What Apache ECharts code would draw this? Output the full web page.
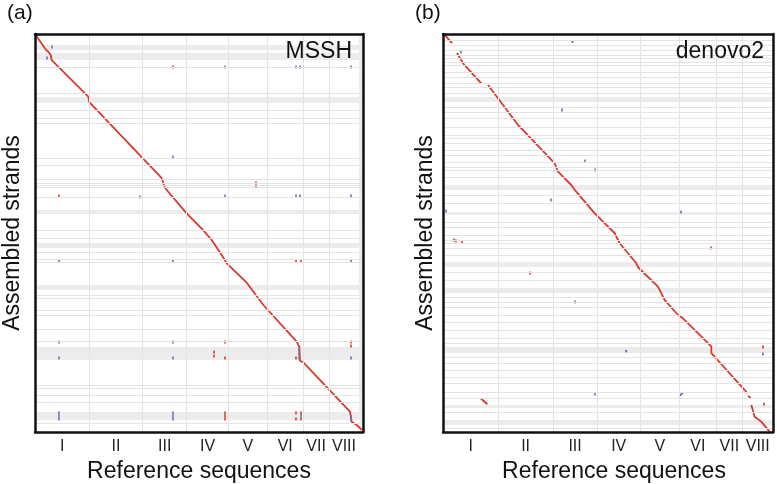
<!DOCTYPE html>
<html><head><meta charset="utf-8">
<script src="https://cdn.jsdelivr.net/npm/echarts@6/dist/echarts.min.js"></script>
<style>html,body{margin:0;padding:0;background:#fff}#c{width:777px;height:484px}</style>
</head><body><div id="c"></div>
<script>
// ---------- data ----------
const chromosomes = ['I','II','III','IV','V','VI','VII','VIII'];
const chromLengths = [5.47, 5.37, 4.41, 4.21, 3.91, 3.61, 2.60, 3.01];
const tailA = 0.41;            // unplaced tail shown on panel (a)
const strandTotal = 33.0;      // total assembled length (y)

// main diagonal (panel a) : [reference pos, strand pos]
const diagA = [[0,0],[1.11,1.33],[1.34,1.47],[1.58,1.74],[1.68,2.16],[5.36,5.20],[5.46,5.64],
  [12.75,11.96],[12.91,12.35],[13.08,12.77],[15.26,14.87],[16.77,16.13],[17.78,17.08],[18.78,18.32],
  [19.29,19.01],[21.30,20.62],[22.97,22.47],[26.33,25.51],[26.59,25.93],[26.66,27.09],[26.99,27.22],
  [31.69,31.32],[31.86,32.14],[32.37,32.42],[32.87,32.83]];

// panel a off-diagonal hits
const fwdA = [[13.88,2.74],[22.23,12.35],[22.23,12.60],[2.41,13.43],[26.26,18.82],[26.76,18.82],
  [19.12,25.54],[31.79,25.54],[31.79,25.87],[18.01,26.37],[18.01,26.70],[19.12,26.86],[26.26,26.86],
  [19.12,31.42],[19.12,31.67],[19.12,31.92],[26.26,31.42],[26.26,31.92],[26.76,31.42],[26.76,31.92]];
const revA = [[1.71,1.08],[1.21,1.99],[19.12,2.74],[26.26,2.74],[26.66,2.74],[31.79,2.74],
  [13.88,10.20],[10.56,13.51],[19.12,13.43],[26.26,13.43],[26.66,13.43],[31.79,13.43],
  [2.41,18.82],[13.88,18.82],[31.79,18.82],[2.41,25.54],[13.88,25.54],[2.41,26.86],[13.88,26.86],
  [31.79,26.86],[2.41,31.42],[2.41,31.67],[2.41,31.92],[13.88,31.42],[13.88,31.67],[13.88,31.92],
  [26.56,26.20],[26.56,26.53],[26.56,26.86],[31.79,31.75],[31.79,32.00],[26.76,31.67]];

// main diagonal (panel b), split into pieces
const diagB = [
  [[0.17,0.08],[0.89,0.75]],
  [[1.38,1.58],[1.98,2.43],[3.78,4.09]],
  [[4.44,4.23],[5.43,5.33],[7.41,7.54],[11.03,10.72],[11.36,11.42],[12.67,12.52],[13.01,12.93],
   [14.98,14.87],[16.96,16.52],[17.45,17.35],[19.09,19.01],[19.26,19.34],[21.23,20.95],[21.90,22.06],
   [23.21,23.30],[23.70,23.57],[26.17,25.64],[26.50,25.93],[26.50,26.47],[26.83,26.76],[29.80,29.52],[30.05,29.79]],
  [[30.12,29.99],[30.39,30.20]],
  [[30.45,30.76],[30.78,31.73],[31.43,32.14],[32.26,32.97]]
];
const fwdSegB = [[[3.72,30.20],[4.38,30.70]]];
const revSegB = [[[12.71,0.72],[12.87,0.56]],[[23.41,29.99],[23.67,29.74]],[[18.04,26.20],[18.14,26.39]]];
const fwdB = [[1.09,17.08],[1.28,17.16],[1.88,17.25],[26.47,17.74],[8.59,19.82],[31.60,25.95],[31.70,30.68]];
const revB = [[1.78,1.49],[11.75,6.30],[14.02,10.53],[15.01,11.28],[10.67,13.76],[0.30,14.68],
  [23.50,14.76],[13.04,22.22],[31.60,26.53],[15.01,29.85]];

// strand boundaries (y)
const strandLinesA = [2.74,4.89,6.30,6.96,7.38,10.28,10.86,12.02,12.35,12.52,12.69,13.51,16.25,16.91,
  18.07,18.65,18.90,21.64,21.89,22.88,23.30,24.46,25.45,29.10,29.35,29.93,30.51,32.25];
const strandBandsA = [[0.91,1.33],[1.58,2.16],[5.22,5.72],[14.59,14.92],[17.33,17.74],[20.81,21.22],
  [25.95,27.03],[31.34,32.00]];
const strandLinesB = [0.50,0.91,1.33,1.74,1.99,2.32,2.57,3.15,3.57,4.06,4.39,4.89,6.05,6.47,6.96,7.71,
  8.37,8.62,9.04,9.62,10.03,10.61,11.03,11.28,11.86,13.35,14.01,15.59,16.00,16.66,17.08,17.33,17.74,
  18.32,19.73,20.40,21.81,22.22,22.63,23.30,23.88,24.54,25.20,25.62,26.78,27.28,27.86,28.44,28.94,
  29.68,30.18,31.34,32.67];
const strandBandsB = [[5.22,5.64],[12.52,12.93],[14.76,15.01],[18.90,19.32],[21.06,21.47],[25.95,26.45],
  [30.76,31.01],[32.00,32.42]];

// ---------- derived ----------
const bounds = [0];
chromLengths.forEach(l => bounds.push(+(bounds[bounds.length-1] + l).toFixed(3)));
const genomeLen = bounds[bounds.length-1];
const mids = chromLengths.map((l,i) => bounds[i] + l/2);
const FONT = "'Liberation Sans', Arial, Helvetica, sans-serif";
const RED = '#d93a2e', BLUE = '#6a70aa', LINE = '#e4e4e4', BAND = '#ececec';

function joinSegs(segs){ const out=[]; segs.forEach((s,i)=>{ if(i) out.push(null); s.forEach(p=>out.push(p)); }); return out; }

const chart = echarts.init(document.getElementById('c'), null, {renderer:'canvas'});

const grids = [
  {left:35, top:34, width:328, height:398, outerBoundsMode:'none', containLabel:false},
  {left:443, top:34, width:330, height:398, outerBoundsMode:'none', containLabel:false}
];
const xMax = [genomeLen + tailA, genomeLen];
const yNameGap = [11, 6];

const xAxes = [], yAxes = [], series = [];
[0,1].forEach(g => {
  xAxes.push({
    gridIndex:g, type:'value', min:0, max:xMax[g], position:'bottom', z:10,
    axisLine:{show:true, onZero:false, lineStyle:{color:'#111', width:2.5}},
    axisTick:{show:false}, splitLine:{show:false},
    axisLabel:{show:true, customValues:mids, margin:7, fontSize:16, color:'#222', fontFamily:FONT,
      formatter:(v)=>{ let k=0,d=1e9; mids.forEach((m,i)=>{ if(Math.abs(m-v)<d){d=Math.abs(m-v);k=i;} }); return chromosomes[k]; }},
    name:'Reference sequences', nameLocation:'middle', nameGap:23,
    nameTextStyle:{fontSize:23, color:'#111', fontFamily:FONT, padding: g ? [0,0,0,12] : 0}
  });
  xAxes.push({
    gridIndex:g, type:'value', min:0, max:xMax[g], position:'top', z:10,
    axisLine:{show:true, onZero:false, lineStyle:{color:'#111', width:2.5}},
    axisTick:{show:false}, axisLabel:{show:false}, splitLine:{show:false}
  });
  yAxes.push({
    gridIndex:g, type:'value', min:0, max:strandTotal, inverse:true, position:'left', z:10,
    axisLine:{show:true, onZero:false, lineStyle:{color:'#111', width:2.5}},
    axisTick:{show:false}, axisLabel:{show:false}, splitLine:{show:false},
    name:'Assembled strands', nameLocation:'middle', nameGap:yNameGap[g], nameRotate:90,
    nameTextStyle:{fontSize:23, color:'#111', fontFamily:FONT}
  });
  yAxes.push({
    gridIndex:g, type:'value', min:0, max:strandTotal, inverse:true, position:'right', z:10,
    axisLine:{show:true, onZero:false, lineStyle:{color:'#111', width:2.5}},
    axisTick:{show:false}, axisLabel:{show:false}, splitLine:{show:false}
  });
});

function addPanel(g, lines, bands, diag, fwd, rev, fwdSeg, revSeg){
  const xi = g*2, yi = g*2;
  const areas = bands.map(b => [{yAxis:b[0]},{yAxis:b[1]}]);
  if (g===0) areas.push([{xAxis:genomeLen},{xAxis:xMax[0]}]);
  const mlines = lines.map(v => ({yAxis:v}))
    .concat(bounds.slice(1, bounds.length-1).map(v => ({xAxis:v})));
  series.push({
    type:'line', xAxisIndex:xi, yAxisIndex:yi, data:[], z:1, silent:true,
    markArea:{silent:true, itemStyle:{color:BAND}, data:areas, label:{show:false}},
    markLine:{silent:true, symbol:['none','none'], label:{show:false},
      lineStyle:{type:'solid', color:LINE, width:1}, data:mlines}
  });
  series.push({
    type:'line', xAxisIndex:xi, yAxisIndex:yi, data:diag, z:3, showSymbol:false, connectNulls:false,
    lineStyle:{color:RED, width:1.8}, silent:true
  });
  if (fwdSeg.length) series.push({type:'line', xAxisIndex:xi, yAxisIndex:yi, data:joinSegs(fwdSeg), z:3,
    showSymbol:false, connectNulls:false, lineStyle:{color:RED, width:1.8}, silent:true});
  if (revSeg.length) series.push({type:'line', xAxisIndex:xi, yAxisIndex:yi, data:joinSegs(revSeg), z:3,
    showSymbol:false, connectNulls:false, lineStyle:{color:BLUE, width:1.8}, silent:true});
  series.push({type:'scatter', xAxisIndex:xi, yAxisIndex:yi, data:fwd, z:4, symbol:'rect',
    symbolSize:[2,3], itemStyle:{color:RED}, silent:true});
  series.push({type:'scatter', xAxisIndex:xi, yAxisIndex:yi, data:rev, z:4, symbol:'rect',
    symbolSize:[2,3], itemStyle:{color:BLUE}, silent:true});
}
addPanel(0, strandLinesA, strandBandsA, diagA, fwdA, revA, [], []);
addPanel(1, strandLinesB, strandBandsB, joinSegs(diagB), fwdB, revB, fwdSegB, revSegB);

chart.setOption({
  animation:false,
  backgroundColor:'#fff',
  grid: grids,
  xAxis: xAxes,
  yAxis: yAxes,
  series: series,
  graphic: {elements: [
    {type:'text', x:7, y:3, z:100, style:{text:'(a)', fontSize:21, fontFamily:FONT, fill:'#111', textAlign:'left', textVerticalAlign:'top'}},
    {type:'text', x:415, y:3, z:100, style:{text:'(b)', fontSize:21, fontFamily:FONT, fill:'#111', textAlign:'left', textVerticalAlign:'top'}},
    {type:'text', x:352, y:40, z:100, style:{text:'MSSH', fontSize:23, fontFamily:FONT, fill:'#111', textAlign:'right', textVerticalAlign:'top'}},
    {type:'text', x:764, y:40, z:100, style:{text:'denovo2', fontSize:23, fontFamily:FONT, fill:'#111', textAlign:'right', textVerticalAlign:'top'}}
  ]}
});
</script>
</body></html>
